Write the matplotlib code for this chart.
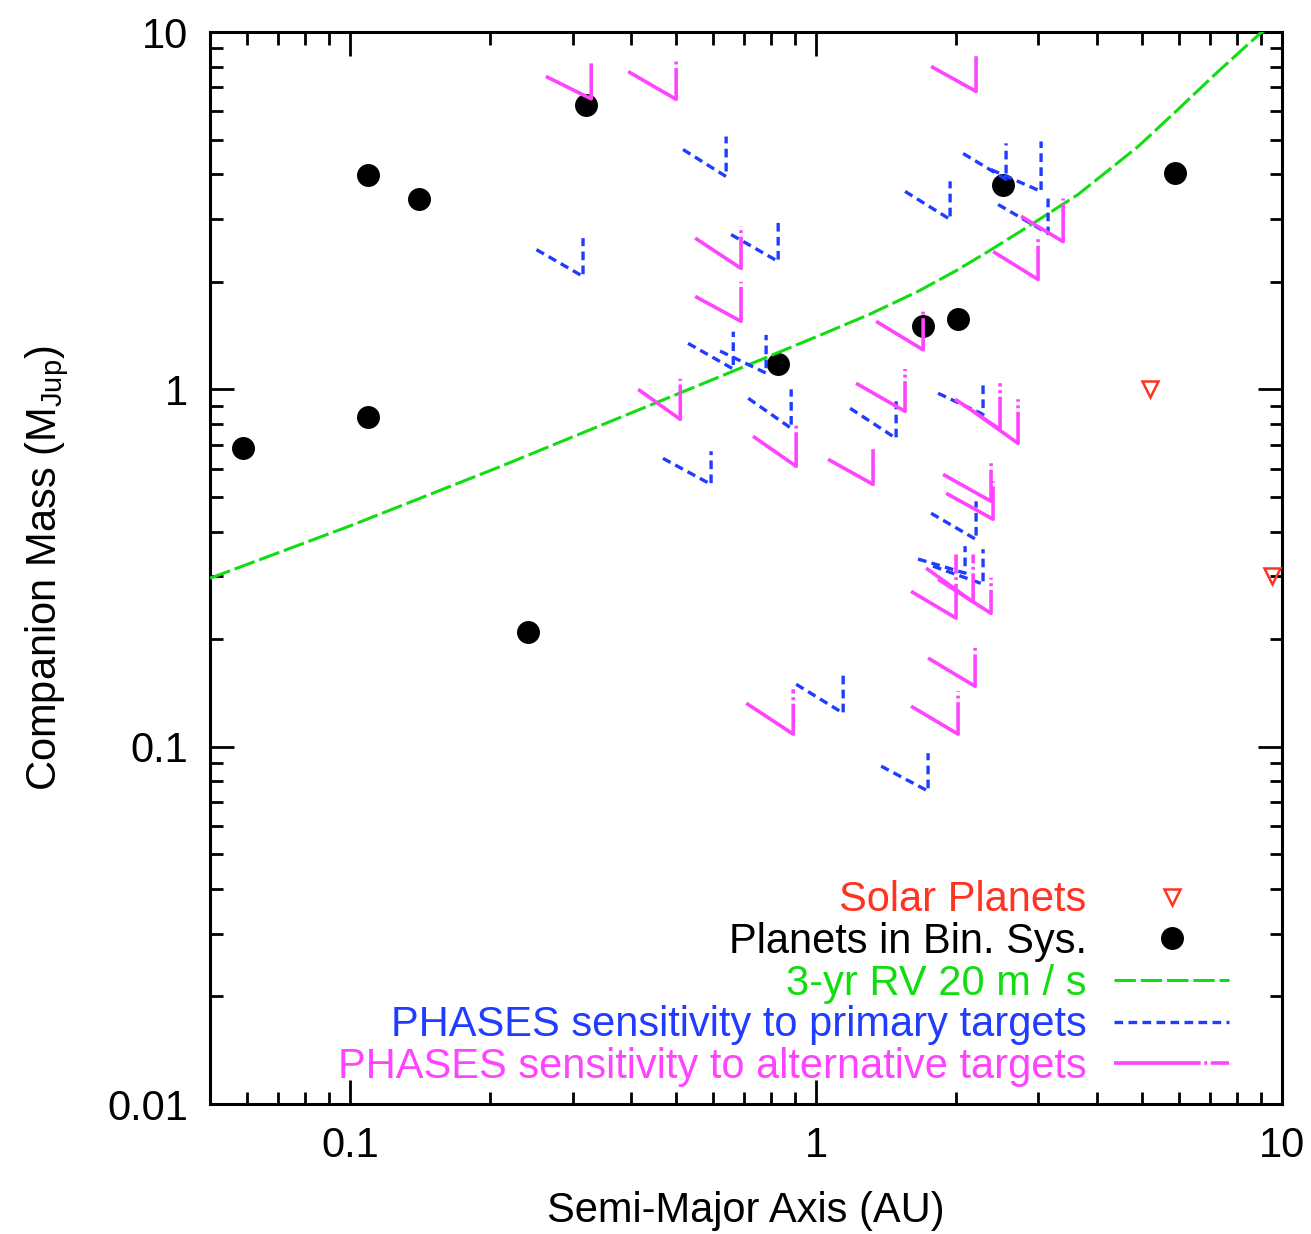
import matplotlib
matplotlib.use("Agg")
import matplotlib.pyplot as plt
from matplotlib.ticker import FixedLocator, LogLocator, NullFormatter

plt.rcParams['font.family'] = ['Liberation Sans', 'DejaVu Sans']
plt.rcParams['mathtext.fontset'] = 'custom'
plt.rcParams['mathtext.rm'] = 'Liberation Sans'

# Solar system giants (a [AU], mass [M_Jup])
solar_a = [5.20, 9.54]
solar_m = [1.00, 0.30]

# Known planets in binary systems
bin_a = [0.0589, 0.1093, 0.1093, 0.1406, 0.241, 0.321, 0.829, 1.697, 2.017, 2.52, 5.89]
bin_m = [0.684, 3.97, 0.835, 3.40, 0.209, 6.23, 1.175, 1.50, 1.57, 3.74, 4.02]

# 3-yr radial velocity detection limit at 20 m/s
rv_a = [0.050, 0.100, 0.208, 0.376, 0.616, 1.01, 1.30, 1.655, 2.00, 2.34, 2.81, 3.65,
        4.91, 5.98, 7.29, 8.97, 9.60]
rv_m = [0.296, 0.415, 0.605, 0.830, 1.08, 1.41, 1.62, 1.88, 2.15, 2.43, 2.82, 3.51,
        4.78, 6.07, 7.75, 9.90, 10.5]

# PHASES sensitivity, primary targets: inner end, outer end, top of period cutoff
prim_a_in = [0.518, 0.251, 0.657, 0.531, 0.622, 0.715, 0.469, 1.183, 0.906, 1.379,
             1.552, 2.068, 2.374, 2.458, 1.827, 1.765, 1.655, 1.782]
prim_m_in = [4.69, 2.46, 2.71, 1.345, 1.28, 0.944, 0.641, 0.885, 0.1495, 0.0882,
             3.58, 4.57, 4.12, 3.29, 0.975, 0.450, 0.335, 0.320]
prim_a_out = [0.641, 0.316, 0.829, 0.664, 0.781, 0.884, 0.595, 1.485, 1.143, 1.739,
              1.939, 2.557, 3.04, 3.147, 2.282, 2.205, 2.088, 2.282]
prim_m_out = [3.94, 2.07, 2.28, 1.14, 1.11, 0.778, 0.542, 0.729, 0.1241, 0.0751,
              2.99, 3.87, 3.58, 2.73, 0.851, 0.380, 0.306, 0.285]
prim_m_top = [5.10, 2.65, 2.95, 1.45, 1.42, 1.00, 0.671, 0.926, 0.160, 0.0959,
              3.82, 4.88, 4.94, 3.47, 1.05, 0.486, 0.364, 0.357]

# PHASES sensitivity, alternative targets
alt_a_in = [0.263, 0.395, 1.765, 0.550, 0.550, 0.415, 0.732, 1.061, 1.218, 1.345,
            1.988, 2.173, 1.873, 1.901, 1.722, 1.827, 1.599, 1.739, 1.599, 0.708,
            2.754, 2.398]
alt_m_in = [7.51, 7.75, 8.01, 2.65, 1.82, 1.00, 0.739, 0.637, 1.04, 1.55,
            0.938, 0.868, 0.578, 0.512, 0.316, 0.294, 0.272, 0.177, 0.1298, 0.1323,
            3.05, 2.43]
alt_a_out = [0.329, 0.5007, 2.205, 0.690, 0.690, 0.511, 0.906, 1.325, 1.552, 1.697,
             2.482, 2.713, 2.374, 2.398, 2.173, 2.374, 1.997, 2.194, 2.017, 0.893,
             3.39, 2.995]
alt_m_out = [6.50, 6.48, 6.82, 2.18, 1.55, 0.824, 0.609, 0.542, 0.868, 1.29,
             0.773, 0.706, 0.486, 0.433, 0.254, 0.236, 0.229, 0.1476, 0.1084, 0.1084,
             2.59, 2.03]
alt_m_top = [8.17, 8.38, 8.71, 2.86, 2.00, 1.07, 0.803, 0.693, 1.14, 1.65,
             1.04, 0.938, 0.621, 0.553, 0.345, 0.297, 0.345, 0.191, 0.1429, 0.1448,
             3.42, 2.65]

RED = '#ff3322'
GREEN = '#11dd11'
BLUE = '#1f3cff'
MAGENTA = '#ff44ff'
FS = 30

fig = plt.figure(figsize=(13.11, 12.34), dpi=100)
ax = fig.add_axes([210 / 1311, 1 - 1104 / 1234, 1072 / 1311, 1072 / 1234])
ax.set_xscale('log')
ax.set_yscale('log')
ax.set_xlim(0.05, 10)
ax.set_ylim(0.01, 10)

ax.plot(solar_a, solar_m, linestyle='none', marker='v', markersize=11,
        markerfacecolor='none', markeredgecolor=RED, markeredgewidth=1.8,
        color=RED, clip_on=False, label='Solar Planets', zorder=3)
ax.plot(bin_a, bin_m, linestyle='none', marker='o', markersize=15.5,
        color='black', label='Planets in Bin. Sys.', zorder=3)
ax.plot(rv_a, rv_m, color=GREEN, lw=2.2, ls=(0, (7, 1.6)),
        label='3-yr RV 20 m / s', zorder=4)

for i in range(len(prim_a_in)):
    ax.plot([prim_a_in[i], prim_a_out[i], prim_a_out[i]],
            [prim_m_in[i], prim_m_out[i], prim_m_top[i]],
            color=BLUE, lw=2.4, ls=(0, (2.6, 1.6)), zorder=5,
            label='PHASES sensitivity to primary targets' if i == 0 else None)

for i in range(len(alt_a_in)):
    ax.plot([alt_a_in[i], alt_a_out[i], alt_a_out[i]],
            [alt_m_in[i], alt_m_out[i], alt_m_top[i]],
            color=MAGENTA, lw=2.6, ls=(0, (24, 1.0, 0.8, 1.0)), zorder=6,
            label='PHASES sensitivity to alternative targets' if i == 0 else None)

# Axes frame and ticks
for s in ax.spines.values():
    s.set_linewidth(2.2)
ax.xaxis.set_major_locator(FixedLocator([0.1, 1, 10]))
ax.set_xticklabels(['0.1', '1', '10'])
ax.yaxis.set_major_locator(FixedLocator([0.01, 0.1, 1, 10]))
ax.set_yticklabels(['0.01', '0.1', '1', '10'])
ax.xaxis.set_minor_locator(LogLocator(base=10, subs=range(2, 10)))
ax.yaxis.set_minor_locator(LogLocator(base=10, subs=range(2, 10)))
ax.xaxis.set_minor_formatter(NullFormatter())
ax.yaxis.set_minor_formatter(NullFormatter())
ax.tick_params(which='both', direction='in', top=True, right=True, width=2,
               labelsize=FS, colors='black')
ax.tick_params(which='major', length=17, pad=16)
ax.tick_params(which='minor', length=9)

ax.set_xlabel('Semi-Major Axis (AU)', fontsize=FS, labelpad=18)
ax.set_ylabel('Companion Mass (M$_{\\mathregular{Jup}}$)', fontsize=FS, labelpad=26)

leg = ax.legend(loc='lower right', bbox_to_anchor=(0.951, 0.016), markerfirst=False,
                frameon=False, fontsize=FS, handlelength=2.76, handletextpad=0.67,
                labelspacing=0.04, borderpad=0, borderaxespad=0, numpoints=1)
for txt, col in zip(leg.get_texts(), [RED, 'black', GREEN, BLUE, MAGENTA]):
    txt.set_color(col)

fig.savefig('out.png', dpi=100)
